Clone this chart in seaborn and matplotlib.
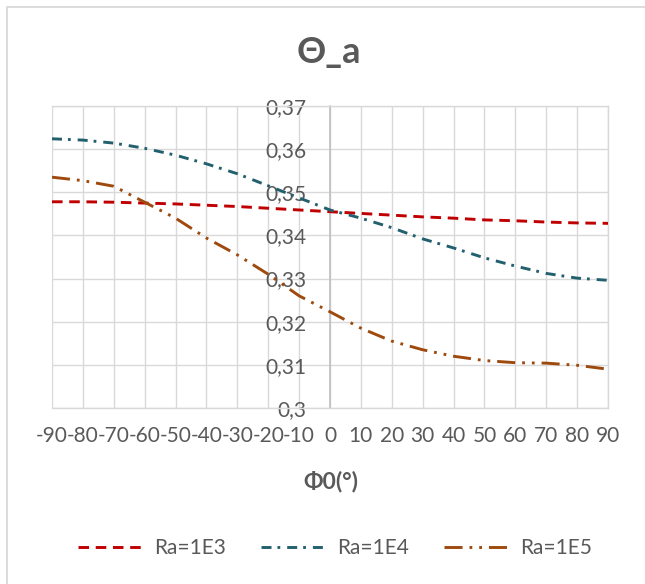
import matplotlib
matplotlib.use("Agg")
import matplotlib.pyplot as plt
import pandas as pd
import seaborn as sns
from matplotlib.patches import Rectangle

# Inclination angle Φ0 (degrees) and average temperature Θ_a for three Rayleigh numbers
phi = [-90, -80, -70, -60, -50, -40, -30, -20, -10, 0,
       10, 20, 30, 40, 50, 60, 70, 80, 90]
ra_1e3 = [0.3478, 0.3478, 0.3477, 0.3475, 0.3473, 0.3470, 0.3467, 0.3463, 0.3459, 0.3455,
          0.3451, 0.3447, 0.3443, 0.3440, 0.3436, 0.3434, 0.3431, 0.3429, 0.3428]
ra_1e4 = [0.3624, 0.3621, 0.3614, 0.3602, 0.3586, 0.3566, 0.3543, 0.3515, 0.3487, 0.3459,
          0.3440, 0.3418, 0.3392, 0.3371, 0.3348, 0.3329, 0.3312, 0.3301, 0.3296]
ra_1e5 = [0.3535, 0.3527, 0.3514, 0.3477, 0.3440, 0.3394, 0.3355, 0.3310, 0.3260, 0.3223,
          0.3185, 0.3155, 0.3135, 0.3120, 0.3110, 0.3105, 0.3104, 0.3099, 0.3090]
series_names = ["Ra=1E3", "Ra=1E4", "Ra=1E5"]

y_ticks = [0.30, 0.31, 0.32, 0.33, 0.34, 0.35, 0.36, 0.37]
y_tick_labels = ["0,3", "0,31", "0,32", "0,33", "0,34", "0,35", "0,36", "0,37"]
x_tick_labels = [str(v) for v in phi]

title_text = "Θ_a"
x_label_text = "Φ0(°)"

sns.set_theme(style="white")
plt.rcParams["font.family"] = ["Lato", "DejaVu Sans"]
plt.rcParams["lines.scale_dashes"] = False

TEXT = "#595959"
GRID = "#d9d9d9"

df = pd.DataFrame({
    "phi": phi * 3,
    "theta": ra_1e3 + ra_1e4 + ra_1e5,
    "series": [series_names[0]] * len(phi) + [series_names[1]] * len(phi) + [series_names[2]] * len(phi),
})

palette = {"Ra=1E3": "#C00000", "Ra=1E4": "#23606E", "Ra=1E5": "#9E4A0E"}
dash_styles = {
    "Ra=1E3": (7.6, 4.8),
    "Ra=1E4": (7.2, 4.3, 2.0, 5.0),
    "Ra=1E5": (13.0, 5.0, 2.0, 5.0, 2.0, 5.0),
}

W, H = 645, 584
fig = plt.figure(figsize=(W / 100, H / 100), dpi=100)
fig.patch.set_facecolor("white")

# chart-area frame
fig.patches.append(Rectangle((7 / W, -0.05), 1.2, 1 - 7 / H + 0.05,
                             transform=fig.transFigure, fill=False,
                             edgecolor=GRID, linewidth=1.3))

ax = fig.add_axes([52 / W, 1 - 408 / H, 556 / W, 302 / H])
sns.lineplot(data=df, x="phi", y="theta", hue="series", style="series",
             palette=palette, dashes=dash_styles, linewidth=2.1,
             ax=ax, legend=False, zorder=3)

ax.set_xlim(-90, 90)
ax.set_ylim(0.30, 0.37)
ax.set_xticks(phi)
ax.set_xticklabels(x_tick_labels)
ax.set_yticks(y_ticks)
ax.set_yticklabels(y_tick_labels)
ax.set_xlabel("")
ax.set_ylabel("")

ax.grid(True, color=GRID, linewidth=1.0, zorder=0)
ax.set_axisbelow(True)

for side in ["top", "right", "bottom"]:
    ax.spines[side].set_visible(True)
    ax.spines[side].set_color(GRID)
    ax.spines[side].set_linewidth(1.0)
ax.spines["left"].set_position(("data", 0))
ax.spines["left"].set_color("#bfbfbf")
ax.spines["left"].set_linewidth(1.2)

ax.tick_params(axis="both", length=0, labelsize=15, labelcolor=TEXT)
ax.tick_params(axis="x", pad=13)
ax.tick_params(axis="y", pad=17)

fig.text(329 / W, 1 - 52 / H, title_text, ha="center", va="center",
         fontsize=26, fontweight="bold", color=TEXT)
fig.text(331 / W, 1 - 481 / H, x_label_text, ha="center", va="center",
         fontsize=16.5, fontweight="bold", color=TEXT)

handles = ax.get_lines()[:3]
fig.legend(handles=handles, labels=series_names, loc="center",
           bbox_to_anchor=(335 / W, 1 - 548 / H), ncol=3, frameon=False,
           fontsize=15, labelcolor=TEXT, handlelength=3.2,
           handletextpad=0.45, columnspacing=1.7)

fig.savefig("out.png", dpi=100, facecolor="white")
